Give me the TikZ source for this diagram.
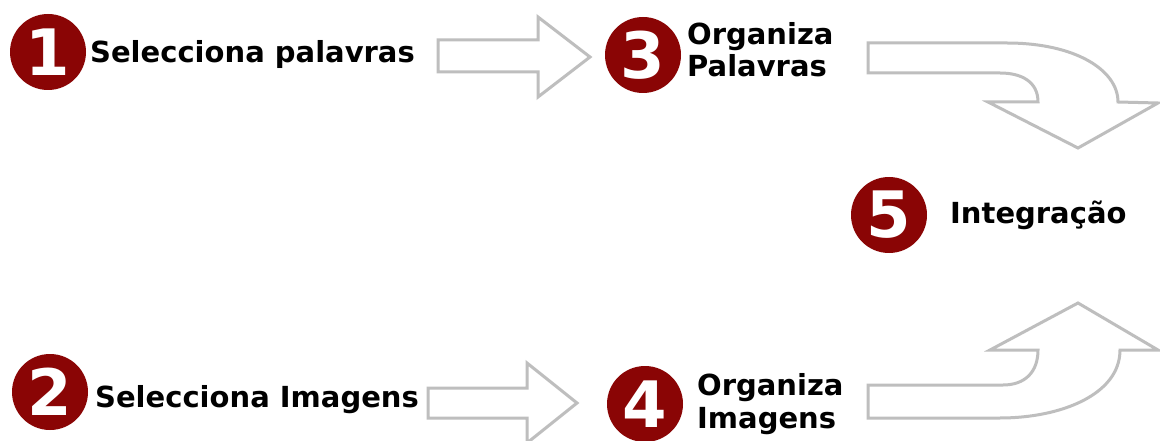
\documentclass[tikz,border=0pt]{standalone}
\usepackage{fontspec}
\setmainfont{DejaVu Sans}
\definecolor{numred}{HTML}{8A0505}
\definecolor{arrowgray}{HTML}{BEBEBE}
\tikzset{
  numcirc/.style={circle, fill=numred, minimum size=76pt, inner sep=0pt,
    text=white, font=\bfseries\fontsize{64}{64}\selectfont},
  label text/.style={inner sep=0pt, anchor=base west, align=left,
    font=\bfseries\fontsize{29}{32.5}\selectfont, text=black},
  blockarrow/.style={draw=arrowgray, line width=3pt, fill=white, line join=miter}
}
\begin{document}
\begin{tikzpicture}[x=1pt,y=-1pt]
\useasboundingbox[fill=white] (0,0) rectangle (1160,441);
% numbered circles
\node[numcirc] (c1) at (48,52) {1};
\node[numcirc] (c2) at (50,392) {2};
\node[numcirc] (c3) at (643,55) {3};
\node[numcirc] (c4) at (645,404) {4};
\node[numcirc] (c5) at (889,215) {5};
% labels (base of a two-line label is its last line)
\node[label text] (t1) at (90,63) {Selecciona palavras};
\node[label text] (t2) at (95,407) {Selecciona Imagens};
\node[label text] (t3) at (687,77) {Organiza\\Palavras};
\node[label text] (t4) at (697,428) {Organiza\\Imagens};
\node[label text] (t5) at (950,223) {Integração};
% straight block arrows
\draw[blockarrow] (438,40) -- (538,40) -- (538,17) -- (590,57) -- (538,97) -- (538,72) -- (438,72) -- cycle;
\draw[blockarrow] (428,388) -- (527,388) -- (527,363) -- (577,403) -- (527,443) -- (527,418) -- (428,418) -- cycle;
% curved block arrows
\draw[blockarrow] (868,43) -- (1007,43) .. controls (1075,43) and (1118,70) .. (1118,102)
  -- (1158,103) -- (1078,148) -- (988,102) -- (1038,102)
  .. controls (1038,82) and (1022,73) .. (1000,73) -- (868,73) -- cycle;
\draw[blockarrow] (868,385) -- (1003,385) .. controls (1025,385) and (1038,372) .. (1038,350)
  -- (990,350) -- (1078,303) -- (1158,350) -- (1120,350)
  .. controls (1120,395) and (1060,418) .. (1000,418) -- (868,418) -- cycle;
\end{tikzpicture}
\end{document}
